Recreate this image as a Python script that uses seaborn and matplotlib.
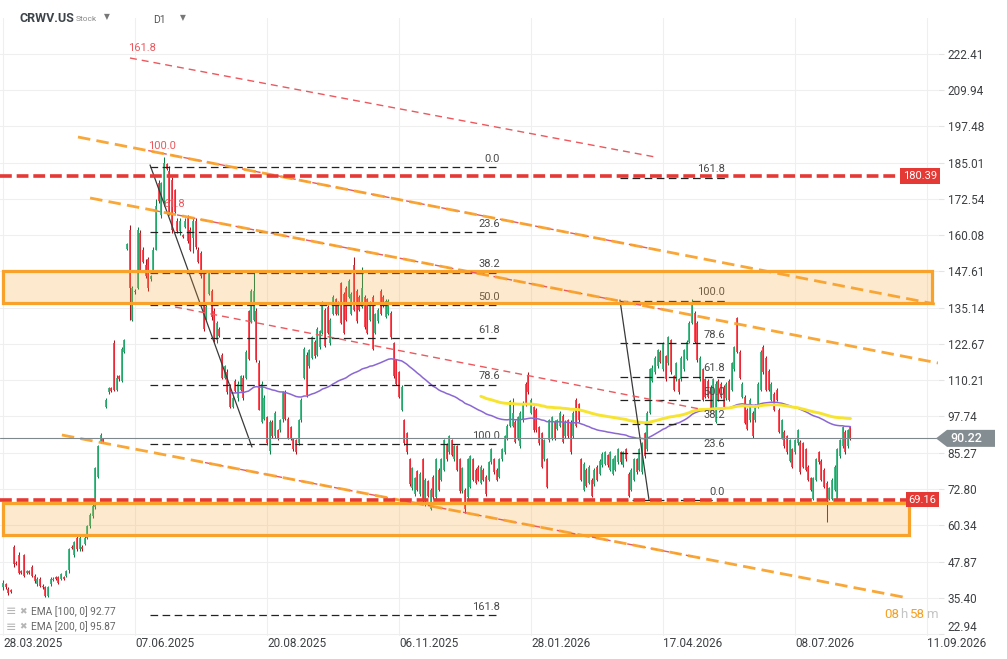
import numpy as np
import pandas as pd
import matplotlib
matplotlib.use("Agg")
import matplotlib.pyplot as plt
import matplotlib.transforms as mtransforms
from matplotlib.patches import Rectangle, Polygon
import seaborn as sns

sns.set_theme(style="white")
plt.rcParams["font.family"] = ["Roboto", "DejaVu Sans"]
plt.rcParams["lines.scale_dashes"] = False

# daily bars (one entry per session)
opens = [
    39, 40, 38.5, 38, 53, 47.5, 50, 44.5, 50, 44,
    44.5, 46, 43, 40, 42, 39.5, 39, 36, 40, 41.5,
    42.5, 42.7, 42, 42.5, 43, 45, 53, 50, 56, 52,
    53, 54, 56, 60, 63.5, 66.5, 77, 89, 90, 101,
    106, 107.5, 123, 107, 111.5, 110, 120, 155.5, 162, 131,
    141, 142, 161, 155, 150, 152, 145, 148, 155, 178,
    167, 172, 184.5, 182, 179, 175.5, 165, 161.5, 160, 163,
    166, 162, 159, 165, 155, 154, 147, 131, 140, 141,
    134, 124, 128, 119, 111, 113, 108, 101, 110, 104,
    107, 111, 111, 134, 130.5, 131, 134, 116, 96, 97,
    97.5, 86, 96, 91, 93, 93, 97, 106, 97, 94,
    90, 89.5, 88.5, 96.5, 111, 119, 115, 118, 123.5, 119,
    121.5, 126.5, 134.5, 135.5, 123, 133, 138, 133, 143.5, 140,
    142, 139, 133, 150, 141, 139, 135.5, 139, 138, 131,
    139, 126.5, 130.5, 141, 139, 132, 133, 133.5, 123, 117,
    113, 100, 96.5, 92, 83, 73, 71, 79, 71, 83,
    69.5, 75.5, 66, 77, 70, 79.5, 76, 79.5, 88, 85.5,
    89.5, 83, 87.5, 83, 72, 72.5, 70, 73.5, 83, 79.5,
    80.5, 75, 79.5, 77, 76, 82, 83, 79.5, 77, 83,
    85.5, 90, 94.5, 94.5, 96, 90, 87.5, 96.5, 109, 112,
    99, 101, 100, 94, 92, 83, 83, 89.5, 90, 96,
    93.5, 94.5, 98, 91, 96.5, 96, 91, 103.5, 102, 83,
    72.5, 79.5, 75, 76, 74.5, 80.5, 78, 81, 81.5, 84.5,
    79.5, 78, 79.5, 82, 85.5, 81, 86.5, 78, 72.5, 76,
    83, 79.5, 78.5, 92, 86.5, 99, 110, 113, 115, 120,
    114, 118.5, 116, 124, 111.5, 110.5, 110.5, 110.5, 114, 117.5,
    123.5, 130, 133.5, 130, 110.5, 114, 110.5, 110, 108, 100,
    96, 110, 109, 108, 104, 110, 107, 114, 131.5, 120,
    104.5, 104.5, 100, 96.5, 99, 96.5, 101, 107, 121.5, 118,
    113.5, 103.5, 105.5, 107, 100, 90.5, 92.5, 91, 82.5, 86.5,
    85.5, 88.5, 89, 88.5, 86.5, 80.5, 76.5, 69.5, 76, 85.5,
    82.5, 79.5, 75, 69.5, 69.5, 72.5, 69.5, 84, 87.5, 92.5,
    87.5, 94,
]
highs = [
    41.5, 40.5, 39, 38.5, 53.5, 48, 51, 45, 50.5, 45,
    45, 46.5, 43.5, 42.5, 42.5, 40, 39.5, 39.5, 42.5, 42.5,
    43, 43, 44, 43, 45, 52.5, 53.5, 55, 56.5, 56.5,
    53.5, 56.5, 60.5, 64.5, 67.5, 80.5, 88, 92, 90.5, 104,
    108, 108, 124, 112, 112, 121.5, 124.5, 157.5, 163.5, 142.5,
    141.5, 163, 162, 156, 152, 152.5, 146.5, 156, 172.5, 179,
    178.5, 187, 185, 184, 180, 176, 166, 166, 160.5, 166,
    167, 163, 166, 166, 156, 154.5, 148, 136, 148, 141.5,
    135, 130.5, 128.5, 119.5, 115.5, 114, 109, 105, 110.5, 110,
    112, 112, 120.5, 134.5, 141.5, 148, 135, 117, 110, 105,
    98, 96.5, 96.5, 99.5, 93.5, 97, 106.5, 107, 97.5, 94.5,
    90.5, 90, 97, 104, 121.5, 120, 121, 125.5, 124, 128.5,
    127.5, 137.5, 135, 136, 131.5, 139.5, 138.5, 137.5, 144, 140.5,
    142.5, 145, 140.5, 152.5, 141.5, 139.5, 149, 139.5, 138.5, 137.5,
    139.5, 133.5, 135, 141.5, 139.5, 138, 138, 134, 123.5, 117.5,
    113.5, 108.5, 97, 92.5, 83.5, 80.5, 77, 79.5, 78.5, 83.5,
    76.5, 76, 73, 77.5, 83.5, 80, 83.5, 90, 88.5, 91.5,
    90, 88, 88, 83.5, 80.5, 73, 83.5, 84.5, 83.5, 80,
    81, 81, 80, 77.5, 82.5, 87, 83.5, 80, 83.5, 87,
    91.5, 95, 103.5, 104, 96.5, 98, 99.5, 103, 109.5, 113,
    104, 101.5, 100.5, 94.5, 92.5, 90, 83.5, 97, 98, 96.5,
    97, 99.5, 98.5, 96.5, 97, 96.5, 99.5, 104, 102.5, 83.5,
    82, 80, 81, 76.5, 80, 81, 83, 85.5, 86, 85,
    86, 83.5, 84.5, 87, 86, 86, 87, 78.5, 80, 83.5,
    83.5, 87, 89, 92.5, 99.5, 114.5, 115.5, 118.5, 121, 120.5,
    123.5, 119, 125.5, 124.5, 112, 116.5, 111, 118.5, 121, 124,
    130.5, 138, 134, 130.5, 118.5, 114.5, 111, 110.5, 108.5, 111,
    110, 110.5, 109.5, 108.5, 109.5, 110.5, 116.5, 122, 132, 120.5,
    109.5, 105, 100.5, 104, 99.5, 102, 109.5, 120.5, 122.5, 118.5,
    114, 109.5, 106, 107.5, 100.5, 97, 93, 91.5, 90, 87,
    90, 93.5, 89.5, 89, 87, 81, 77, 77, 83.5, 86,
    83, 80, 75.5, 73.5, 76.5, 81, 87, 90, 94.5, 93,
    93.5, 94.5,
]
lows = [
    38, 38.5, 36.5, 37, 46, 46.5, 43.5, 43.5, 42.5, 43.5,
    43.5, 42.5, 40.5, 39.5, 39, 38.5, 35.5, 35.5, 39.5, 41,
    41.5, 40, 41.5, 41.5, 42.5, 44, 52, 49.5, 51.5, 51.5,
    51.5, 53.5, 55.5, 59.5, 63, 66, 76.5, 88.5, 88.5, 100.5,
    105.5, 106, 106.5, 106.5, 110, 109.5, 119.5, 155, 131, 130.5,
    140, 141.5, 147.5, 150.5, 145.5, 141, 144.5, 147.5, 155, 171,
    166, 170, 182.5, 167, 161, 167.5, 161, 160, 159, 162.5,
    157.5, 154.5, 154, 155.5, 150.5, 145.5, 127, 130.5, 139.5, 131,
    123.5, 123, 125, 110.5, 110.5, 105.5, 100.5, 100.5, 106, 103,
    106.5, 103.5, 110.5, 117, 130, 130.5, 116.5, 100, 95.5, 96.5,
    88, 85, 90.5, 90.5, 89.5, 92.5, 96, 96.5, 90, 89.5,
    86, 85, 88, 96, 110.5, 104.5, 114.5, 117.5, 118, 118.5,
    121, 126, 121.5, 126, 122.5, 132.5, 132.5, 132.5, 129.5, 126,
    130.5, 138.5, 132.5, 134, 130, 134, 135, 128, 126, 130.5,
    120.5, 126, 130, 132.5, 135.5, 131.5, 132.5, 124.5, 111, 108.5,
    104, 99.5, 88, 85, 74, 72.5, 70.5, 72, 70.5, 68.5,
    67, 70, 65.5, 69.5, 69.5, 72, 75.5, 79, 82.5, 85,
    84, 82.5, 79, 71.5, 71.5, 64.5, 69.5, 73, 75.5, 74.5,
    75.5, 74.5, 75.5, 70.5, 75.5, 81.5, 78, 75.5, 76.5, 82.5,
    85, 89.5, 94, 94, 88.5, 89.5, 87, 96, 101.5, 105.5,
    98.5, 92.5, 92.5, 88, 80, 82.5, 73, 89, 89.5, 89.5,
    93, 94, 88.5, 90.5, 90.5, 85, 90.5, 94, 96, 75.5,
    72, 73.5, 74.5, 70, 74, 75.5, 77.5, 80.5, 81, 80.5,
    79, 77.5, 79, 81.5, 81.5, 80.5, 82.5, 70, 72, 75.5,
    78, 79, 78, 83.5, 86, 98.5, 109.5, 112.5, 114.5, 116,
    113.5, 110, 115.5, 112.5, 106.5, 110, 105.5, 110, 113.5, 117,
    123, 129.5, 123, 116.5, 110, 103, 104, 104, 99.5, 99.5,
    95.5, 103, 104, 100.5, 103.5, 103, 106.5, 113.5, 119.5, 110.5,
    104, 95, 93, 96, 90.5, 96, 100.5, 106.5, 112.5, 106.5,
    106.5, 103, 99.5, 103, 92, 90, 87, 85, 82, 80,
    85, 88, 78, 80, 79, 75.5, 72, 69, 75.5, 81.5,
    75.5, 73, 61.5, 69, 69, 72, 69, 83.5, 87, 85,
    87, 89.5,
]
closes = [
    40.5, 39, 37, 37.5, 47, 47, 44, 44, 43, 44.5,
    44, 43, 41, 42, 39.5, 39, 36, 39, 42, 42,
    42, 40.5, 43.5, 41.8, 44.5, 52, 52.5, 54.5, 52, 56,
    52, 56, 60, 64, 67, 80, 87.5, 91.5, 89, 103.5,
    107.5, 106.5, 107, 111, 110.5, 121, 124, 157, 142, 142,
    140.5, 162, 148, 151, 146, 142, 146, 155, 170, 172,
    178, 185, 183, 168, 162, 168, 161.5, 165, 159.5, 165,
    158, 155, 165, 156, 151, 146, 128, 135.5, 147, 132,
    124, 130, 125.5, 111, 115, 106, 101, 104, 106.5, 109,
    111.5, 104, 120, 117.5, 141, 141, 117, 100, 109, 104,
    88.5, 96, 91, 99, 90, 96.5, 106, 97, 90.5, 90,
    86.5, 85.5, 96.5, 103.5, 121, 105, 120.5, 125, 118.5, 128,
    127, 137, 122, 126.5, 131, 139, 133, 137, 130, 126.5,
    131, 144.5, 140, 134.5, 130.5, 134.5, 142, 128.5, 126.5, 137,
    121, 133, 134.5, 133, 136, 137.5, 137.5, 125, 111.5, 109,
    104.5, 108, 88.5, 85.5, 74.5, 80, 76.5, 72.5, 78, 69,
    76, 70.5, 72.5, 70, 83, 72.5, 83, 89.5, 83, 91,
    84.5, 87.5, 79.5, 72, 80, 66, 83, 84, 76, 75,
    76, 80.5, 76, 71, 82, 86.5, 78.5, 76, 83, 86.5,
    91, 94.5, 103, 99, 89, 97.5, 99, 102.5, 102, 106,
    103.5, 93, 93, 88.5, 80.5, 89.5, 73.5, 96.5, 97.5, 90,
    96.5, 99, 89, 96, 91, 85.5, 99, 94.5, 96.5, 76,
    81.5, 74, 80.5, 70.5, 79.5, 76, 82.5, 85, 85.5, 81,
    85.5, 83, 84, 86.5, 82, 85.5, 83, 70.5, 79.5, 83,
    78.5, 86.5, 88.5, 84, 99, 114, 114.5, 118, 120.5, 116.5,
    123, 110.5, 125, 113, 107, 116, 106, 118, 120.5, 123.5,
    130, 137, 123.5, 117, 118, 103.5, 104.5, 104.5, 100, 110.5,
    109, 103.5, 104.5, 101, 109, 103.5, 116, 121.5, 120, 111,
    109, 95.5, 93.5, 103.5, 91, 101.5, 109, 120, 113, 107,
    107, 109, 100, 103.5, 92.5, 96.5, 87.5, 85.5, 89.5, 80.5,
    89.5, 93, 78.5, 80.5, 79.5, 76, 72.5, 76.5, 83, 82,
    76, 73.5, 69.5, 73, 76, 80.5, 86.5, 89.5, 94, 85.5,
    93, 90.22,
]

price_ticks = [22.94, 35.40, 47.87, 60.34, 72.80, 85.27, 97.74, 110.21, 122.67,
               135.14, 147.61, 160.08, 172.54, 185.01, 197.48, 209.94, 222.41]
date_labels = ["28.03.2025", "07.06.2025", "20.08.2025", "06.11.2025",
               "28.01.2026", "17.04.2026", "08.07.2026", "11.09.2026"]
date_bars = [0, 50, 100, 150, 200, 250, 300, 350]

last_price = 90.22
resistance = 180.39
support = 69.16
zone_upper = (136.8, 147.8)
zone_lower = (57.0, 68.0)
ema_periods = [100, 200]
ema_first_bar = [86, 181]
ema_legend = [92.77, 95.87]

# fibonacci retracements: price at 0.0 and at 100.0
fib_ratios = [0.0, 23.6, 38.2, 50.0, 61.8, 78.6, 100.0, 161.8]
fib_left = {"p0": 183.55, "p100": 88.28, "start": 55.7, "end": 188.3}
fib_right = {"p0": 69.03, "p100": 137.57, "start": 233.7, "end": 273.5}

# trend channel (bar, price) end points
orange_channel = [((28.4, 193.86), (353.0, 136.43)),
                  ((33.0, 172.89), (354.2, 116.14)),
                  ((22.3, 91.38), (340.9, 35.66))]
red_channel = [((48.1, 221.03), (247.0, 186.99)),
               ((55.0, 189.20), (247.0, 155.20)),
               ((57.0, 168.65), (250.0, 134.55)),
               ((65.2, 135.40), (264.0, 100.32)),
               ((76.5, 81.90), (264.0, 49.11))]
fib_diagonals = [((55.7, 184.24), (94.3, 87.25)),
                 ((233.7, 137.80), (244.7, 69.03))]

ORANGE = "#f9a22b"
RED = "#e53935"
RED_THIN = "#ec585d"
GRID = "#efefef"
TXT = "#3d4043"

W, H = 1007, 659
fig = plt.figure(figsize=(W / 100, H / 100), dpi=100, facecolor="white")
ax_left, ax_right, ax_top, ax_bottom = 0, 938, 18, 636
ax = fig.add_axes([ax_left / W, 1 - ax_bottom / H, (ax_right - ax_left) / W,
                   (ax_bottom - ax_top) / H])
ax.set_facecolor("white")
for s in ax.spines.values():
    s.set_visible(False)

ax.set_xlim(-1.136, 354.17)
ax.set_ylim(22.25, 234.79)

# grid
for p in price_ticks:
    ax.axhline(p, color=GRID, lw=0.8, zorder=0)
for b in date_bars:
    ax.axvline(b, color=GRID, lw=0.8, zorder=0)

# candles
o = np.array(opens, dtype=float)
hi = np.array(highs, dtype=float)
lo = np.array(lows, dtype=float)
c = np.array(closes, dtype=float)
idx = np.arange(len(c))
up = c >= o
ax.vlines(idx, lo, hi, colors=np.where(up, "#0f7d48", "#a5151f"), lw=0.75, zorder=2)
ax.vlines(idx, np.minimum(o, c), np.maximum(o, c),
          colors=np.where(up, "#25b072", "#fb2d3b"), lw=1.2, zorder=2.1)

# EMAs
ema_df = pd.DataFrame({"bar": idx, "close": c})
for period, first, col, lw, adj in zip(ema_periods, ema_first_bar,
                                       ["#8a67d4", "#f7e42f"], [1.1, 2.1],
                                       [False, True]):
    ema_df[f"ema{period}"] = ema_df["close"].ewm(span=period, adjust=adj).mean()
    part = ema_df[ema_df["bar"] >= first]
    sns.lineplot(data=part, x="bar", y=f"ema{period}", ax=ax, color=col,
                 lw=lw, estimator=None, zorder=3 if period == 100 else 3.2)

# fibonacci retracement levels
for fib in [fib_left, fib_right]:
    for r in fib_ratios:
        lvl = fib["p0"] + (fib["p100"] - fib["p0"]) * r / 100.0
        ax.plot([fib["start"], fib["end"]], [lvl, lvl], color="#222222", lw=0.9,
                ls=(0, (5.5, 3.2)), zorder=3.5)
        ax.annotate(f"{r:.1f}", (fib["end"], lvl), xytext=(0, 2.5),
                    textcoords="offset points", ha="right", va="bottom",
                    fontsize=8, color="#4a4a4a", zorder=3.6)
for (x0, y0), (x1, y1) in fib_diagonals:
    ax.plot([x0, x1], [y0, y1], color="#3a3a3a", lw=0.9, zorder=3.5)

# zones (fill drawn above candles, semi transparent)
for lo_z, hi_z, right_bar in [(zone_upper[0], zone_upper[1], 351.9),
                              (zone_lower[0], zone_lower[1], 343.2)]:
    ax.add_patch(Rectangle((-0.1, lo_z), right_bar + 0.1, hi_z - lo_z,
                           facecolor=ORANGE, alpha=0.23, edgecolor="none", zorder=4))
    ax.add_patch(Rectangle((-0.1, lo_z), right_bar + 0.1, hi_z - lo_z,
                           facecolor="none", edgecolor=ORANGE, lw=2.3, zorder=4.1))

# channels
for (x0, y0), (x1, y1) in red_channel:
    ax.plot([x0, x1], [y0, y1], color=RED_THIN, lw=1.0, ls=(0, (5, 3.6)), zorder=5)
for (x0, y0), (x1, y1) in orange_channel:
    ax.plot([x0, x1], [y0, y1], color=ORANGE, lw=2.0, ls=(0, (9, 4.5)), zorder=5.1,
            alpha=0.95)

ax.text(47.3, 222.6, "161.8", color=RED_THIN, fontsize=8, va="bottom", zorder=6)
ax.text(54.9, 189.1, "100.0", color=RED_THIN, fontsize=8, va="bottom", zorder=6)
ax.text(60.6, 169.1, "61.8", color=RED_THIN, fontsize=8, va="bottom", zorder=6)

# horizontal levels
ax.plot([-1, 341.7], [resistance, resistance], color=RED, lw=2.6,
        ls=(0, (8.5, 3.5)), zorder=6)
ax.plot([-1, 343.5], [support, support], color=RED, lw=2.6,
        ls=(0, (8.5, 3.5)), zorder=6)
ax.axhline(last_price, color="#7f888d", lw=0.8, zorder=5.5)

bl = mtransforms.blended_transform_factory(ax.transAxes, ax.transData)
ax.text(0.9805, resistance, f"{resistance:.2f}", transform=bl, ha="center",
        va="center", color="white", fontsize=8, zorder=8,
        bbox=dict(boxstyle="square,pad=0.25", fc=RED, ec="none"))
ax.text(0.9835, support, f"{support:.2f}", transform=bl, ha="center",
        va="center", color="white", fontsize=8, zorder=8,
        bbox=dict(boxstyle="square,pad=0.25", fc=RED, ec="none"))

fb = mtransforms.blended_transform_factory(fig.transFigure, ax.transData)
half = 8.5 / 2.9077
tag = Polygon([(936 / W, last_price), (947 / W, last_price + half),
               (995 / W, last_price + half), (995 / W, last_price - half),
               (947 / W, last_price - half)], closed=True, transform=fb,
              fc="#848d92", ec="none", clip_on=False, zorder=9)
fig.patches.append(tag)
fig.text(950 / W, last_price, f"{last_price:.2f}", transform=fb, color="white",
         fontsize=9, fontweight="medium", va="center", ha="left", zorder=10)

# axes ticks
ax.yaxis.tick_right()
ax.set_yticks(price_ticks)
ax.set_yticklabels([f"{p:.2f}" for p in price_ticks])
ax.tick_params(axis="y", length=4, width=0.8, color="#e4e4e4", pad=3,
               labelsize=8.5, labelcolor=TXT)
ax.get_yticklabels()[0].set_verticalalignment("bottom")
ax.set_xticks(date_bars)
ax.set_xticklabels(date_labels)
for t in ax.get_xticklabels():
    t.set_horizontalalignment("left")
ax.tick_params(axis="x", length=0, pad=0.5, labelsize=8.5, labelcolor=TXT)
ax.set_xlabel("")
ax.set_ylabel("")

# header
fig.text(20 / W, 1 - 18 / H, "CRWV.US", fontsize=9, fontweight="bold",
         color="#3d4449", va="center")
fig.text(76 / W, 1 - 19 / H, "Stock", fontsize=6, color="#8a8a8a", va="center")
fig.text(104 / W, 1 - 17 / H, "▼", fontsize=5.5, color="#777777", va="center",
         family="DejaVu Sans")
fig.text(153 / W, 1 - 20 / H, "D1", fontsize=7.5, color="#555555", va="center")
fig.text(180 / W, 1 - 18 / H, "▼", fontsize=5.5, color="#777777", va="center",
         family="DejaVu Sans")

# indicator legend
for row, (period, val) in enumerate(zip(ema_periods, ema_legend)):
    yy = 1 - (612 + 15 * row) / H
    fig.text(6 / W, yy, "≡", fontsize=9, color="#b5b5b5", va="center",
             family="DejaVu Sans")
    fig.text(19 / W, yy, "✖", fontsize=6.5, color="#b5b5b5", va="center",
             family="DejaVu Sans")
    fig.text(31 / W, yy, f"EMA [{period}, 0] {val:.2f}", fontsize=7.3,
             color="#666666", va="center")

# countdown
for xp, s, col in [(884, "08", "#f5a020"), (900, "h", "#c4c4c4"),
                   (910, "58", "#f5a020"), (926, "m", "#c4c4c4")]:
    fig.text(xp / W, 1 - 615 / H, s, fontsize=9.5, color=col, va="center")

fig.savefig("out.png", dpi=100, facecolor="white")
